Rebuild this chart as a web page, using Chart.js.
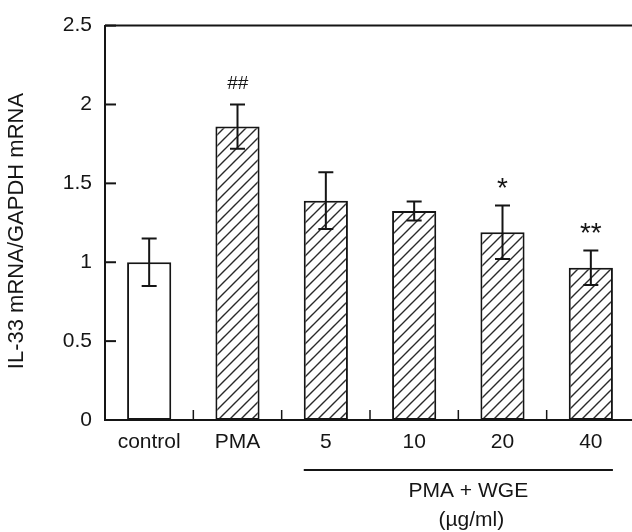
<!DOCTYPE html>
<html>
<head>
<meta charset="utf-8">
<script src="https://cdn.jsdelivr.net/npm/chart.js@4.4.1/dist/chart.umd.min.js"></script>
<style>
  html, body { margin: 0; padding: 0; background: #fff; overflow: hidden; }
  #wrap { width: 632px; height: 532px; overflow: hidden; }
</style>
</head>
<body>
<div id="wrap"><canvas id="chart" width="640" height="532"></canvas></div>
<script>
// data
const categories = ['control', 'PMA', '5', '10', '20', '40'];
const means = [1.0, 1.86, 1.39, 1.325, 1.19, 0.965];
const errors = [0.15, 0.14, 0.18, 0.06, 0.17, 0.11];
const marks = ['', '##', '', '', '*', '**'];
const yTicks = [0, 0.5, 1, 1.5, 2, 2.5];
const yTitle = 'IL-33 mRNA/GAPDH mRNA';
const groupLabel = ['PMA + WGE', '(µg/ml)'];
const groupFrom = 2;
const groupTo = 5;

const FONT = "'Liberation Sans', Arial, Helvetica, sans-serif";
const INK = '#151515';

// hatch fill for the treated bars
function makeHatch() {
  const s = 11;
  const c = document.createElement('canvas');
  c.width = s; c.height = s;
  const g = c.getContext('2d');
  g.fillStyle = '#fff';
  g.fillRect(0, 0, s, s);
  g.strokeStyle = '#2a2a2a';
  g.lineWidth = 1.4;
  g.beginPath();
  g.moveTo(0, s); g.lineTo(s, 0);
  g.moveTo(-2, 2); g.lineTo(2, -2);
  g.moveTo(s - 2, s + 2); g.lineTo(s + 2, s - 2);
  g.stroke();
  return g.createPattern(c, 'repeat');
}
const hatch = makeHatch();

// error bars, significance marks, inner ticks, frame and group label
const extrasPlugin = {
  id: 'extras',
  afterDatasetsDraw(chart) {
    const ctx = chart.ctx;
    const x = chart.scales.x;
    const y = chart.scales.y;
    const area = chart.chartArea;
    const meta = chart.getDatasetMeta(0);
    ctx.save();
    ctx.strokeStyle = INK;
    ctx.fillStyle = INK;
    ctx.lineWidth = 2;

    // error bars
    means.forEach((m, i) => {
      const cx = x.getPixelForValue(i);
      const top = y.getPixelForValue(m + errors[i]);
      const bot = y.getPixelForValue(m - errors[i]);
      ctx.beginPath();
      ctx.moveTo(cx, top); ctx.lineTo(cx, bot);
      ctx.moveTo(cx - 7.5, top); ctx.lineTo(cx + 7.5, top);
      ctx.moveTo(cx - 7.5, bot); ctx.lineTo(cx + 7.5, bot);
      ctx.stroke();

      // marks above
      if (marks[i]) {
        const isHash = marks[i].includes('#');
        ctx.font = (isHash ? 'italic 19px ' : '28px ') + FONT;
        ctx.textAlign = 'center';
        ctx.textBaseline = 'alphabetic';
        const tm = ctx.measureText(marks[i]);
        ctx.fillText(marks[i], cx, top - (isHash ? 15 : 17) - tm.actualBoundingBoxDescent);
      }
    });

    // top frame line
    ctx.beginPath();
    ctx.moveTo(area.left, area.top);
    ctx.lineTo(area.right, area.top);
    ctx.stroke();

    // y ticks pointing inward
    yTicks.forEach(v => {
      const py = y.getPixelForValue(v);
      ctx.beginPath();
      ctx.moveTo(area.left, py);
      ctx.lineTo(area.left + 11, py);
      ctx.stroke();
    });

    // x ticks at category boundaries, pointing up
    ctx.lineWidth = 1.5;
    for (let i = 0; i < categories.length - 1; i++) {
      const px = (x.getPixelForValue(i) + x.getPixelForValue(i + 1)) / 2;
      ctx.beginPath();
      ctx.moveTo(px, area.bottom);
      ctx.lineTo(px, area.bottom - 10);
      ctx.stroke();
    }

    // group bracket + label
    const b0 = meta.data[groupFrom];
    const b1 = meta.data[groupTo];
    const lx0 = b0.x - b0.width / 2;
    const lx1 = b1.x + b1.width / 2;
    ctx.lineWidth = 2;
    ctx.beginPath();
    ctx.moveTo(lx0, 470);
    ctx.lineTo(lx1, 470);
    ctx.stroke();
    ctx.font = '21px ' + FONT;
    ctx.textAlign = 'center';
    ctx.textBaseline = 'middle';
    const tx = (lx0 + lx1) / 2 + 10;
    ctx.fillText(groupLabel[0], tx, 491);
    ctx.fillText(groupLabel[1], tx + 3, 520);

    // y title
    ctx.font = '22px ' + FONT;
    ctx.translate(17, 231);
    ctx.rotate(-Math.PI / 2);
    ctx.fillText(yTitle, 0, 0);
    ctx.restore();
  }
};

const ctx = document.getElementById('chart').getContext('2d');
new Chart(ctx, {
  type: 'bar',
  data: {
    labels: categories,
    datasets: [{
      data: means,
      backgroundColor: categories.map((c, i) => i === 0 ? '#fff' : hatch),
      borderColor: INK,
      borderWidth: 2,
      borderSkipped: false,
      categoryPercentage: 1,
      barPercentage: 0.5
    }]
  },
  options: {
    responsive: false,
    animation: false,
    layout: { padding: { top: 23, right: 5, left: 0, bottom: 0 } },
    plugins: {
      legend: { display: false },
      tooltip: { enabled: false }
    },
    scales: {
      x: {
        grid: { display: false, drawTicks: false },
        border: { color: INK, width: 2 },
        ticks: { color: INK, font: { family: FONT, size: 21 }, padding: 10, maxRotation: 0 },
        afterFit: (axis) => { axis.height = 112; }
      },
      y: {
        min: 0,
        max: 2.5,
        afterBuildTicks: (axis) => { axis.ticks = yTicks.map(v => ({ value: v })); },
        grid: { display: false, drawTicks: false },
        border: { color: INK, width: 2 },
        ticks: {
          color: INK,
          font: { family: FONT, size: 21 },
          padding: 13,
          callback: (v) => String(v)
        },
        afterFit: (axis) => { axis.width = 105; }
      }
    }
  },
  plugins: [extrasPlugin]
});
</script>
</body>
</html>
